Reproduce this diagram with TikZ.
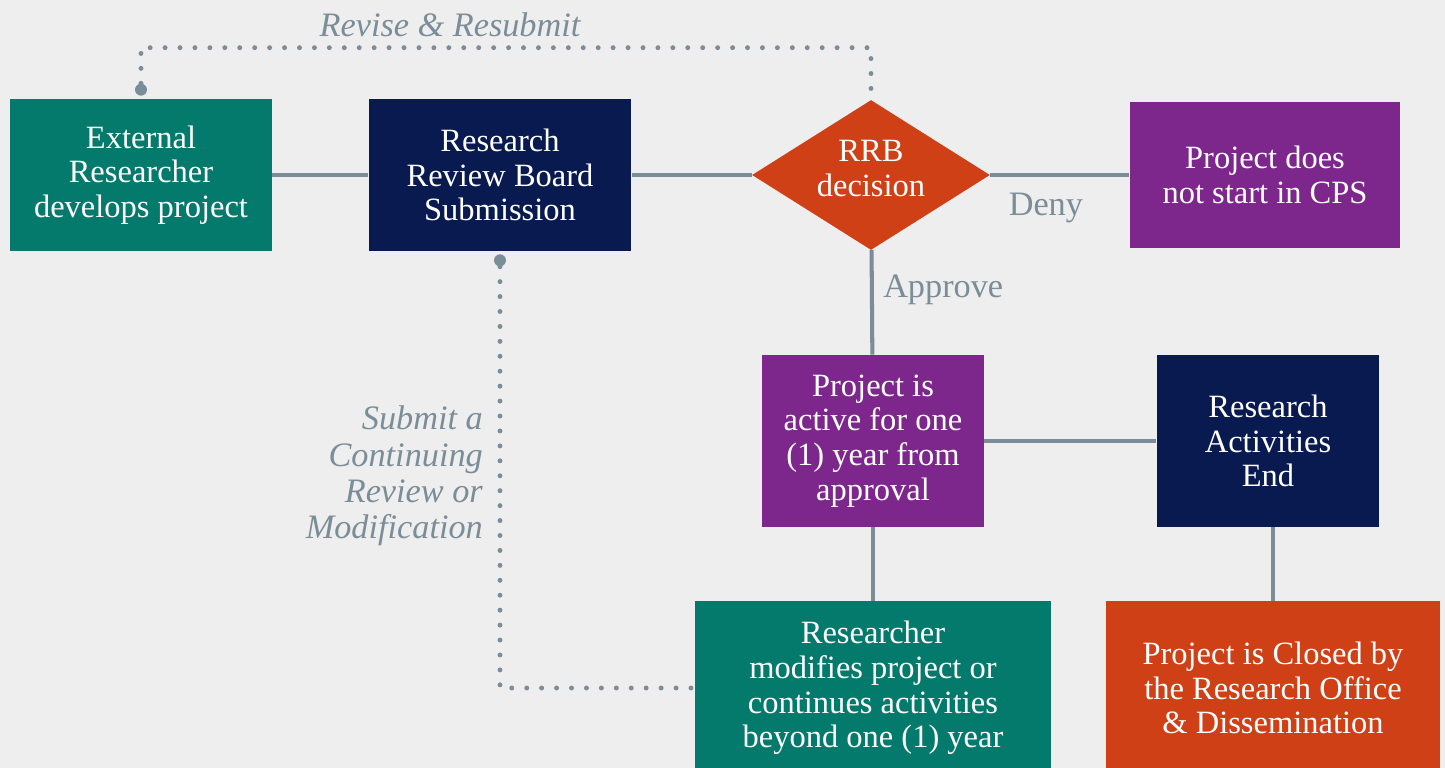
\documentclass[tikz,border=0pt]{standalone}
\usepackage{fontspec}
\setmainfont{Liberation Serif}
\usetikzlibrary{shapes.geometric}

\definecolor{pagebg}{HTML}{EEEEEE}
\definecolor{cpsteal}{HTML}{047A6C}
\definecolor{cpsnavy}{HTML}{081A50}
\definecolor{cpsred}{HTML}{CF4017}
\definecolor{cpspurple}{HTML}{7D278D}
\definecolor{linegray}{HTML}{7A8D98}

\tikzset{
  box/.style={rectangle, fill=#1, text=white, align=center, inner sep=0pt,
    font=\fontsize{18.5}{19.8}\selectfont},
  link/.style={draw=linegray, line width=2.3pt},
  dots/.style={draw=linegray, line width=2.8pt, line cap=round, dash pattern=on 0pt off 8.5pt},
  enddot/.style={circle, fill=linegray, inner sep=0pt, minimum size=0.24cm},
  lbl/.style={text=linegray, font=\fontsize{19.5}{20.5}\selectfont},
  ilbl/.style={text=linegray, font=\fontsize{19.5}{20.6}\selectfont\itshape}
}

\begin{document}
\begin{tikzpicture}[x=0.02cm, y=-0.02cm]
    \useasboundingbox (0,0) rectangle (1445,768);
    \clip (0,0) rectangle (1445,768);
    \fill[pagebg] (0,0) rectangle (1445,768);

    % top row
    \node[box=cpsteal, minimum width=5.24cm, minimum height=3.04cm] (ext) at (141,175)
      {External\\Researcher\\develops project};
    \node[box=cpsnavy, minimum width=5.26cm, minimum height=3.04cm] (rrbs) at (500,175)
      {Research\\Review Board\\Submission};
    \node[box=cpsred, diamond, shape aspect=1.58, minimum width=4.76cm, minimum height=3cm] (dec) at (871,175)
      {RRB\\decision\\[-0.42cm]};
    \node[box=cpspurple, minimum width=5.42cm, minimum height=2.92cm] (deny) at (1265,175)
      {Project does\\not start in CPS};

    % middle row
    \node[box=cpspurple, minimum width=4.44cm, minimum height=3.44cm] (active) at (873,441)
      {Project is\\active for one\\(1) year from\\approval};
    \node[box=cpsnavy, minimum width=4.46cm, minimum height=3.44cm] (end) at (1268,441)
      {Research\\Activities\\End};

    % bottom row
    \node[box=cpsteal, minimum width=7.14cm, minimum height=3.48cm] (mods) at (873,688)
      {Researcher\\modifies project or\\continues activities\\beyond one (1) year};
    \node[box=cpsred, minimum width=6.7cm, minimum height=3.48cm] (closed) at (1273,688)
      {Project is Closed by\\the Research Office\\\& Dissemination};

    \draw[link] (ext) -- (rrbs);
    \draw[link] (rrbs) -- (dec);
    \draw[link] (dec) -- (deny) node[lbl, pos=0.4, below=6pt] {Deny};
    \draw[link] (dec) -- (active) node[lbl, pos=0.38, right=2pt] {Approve};
    \draw[link] (active) -- (end);
    \draw[link] (active.south) -- (active.south |- mods.north);
    \draw[link] (closed.north |- end.south) -- (closed.north);

    % loops back
    \node[enddot] (extdot) at ([yshift=0.18cm]ext.north) {};
    \node[enddot] (subdot) at ([yshift=-0.18cm]rrbs.south) {};
    \draw[dots] (extdot) -- ++(0,-42) -| (dec.north);
    \draw[dots] (subdot) |- (mods.west);
    \node[ilbl] (revise) at (450,25) {Revise \& Resubmit};
    \node[ilbl, align=right, anchor=east] (submit) at (489,476)
      {Submit a\\Continuing\\Review or\\Modification};
  \end{tikzpicture}
\end{document}
